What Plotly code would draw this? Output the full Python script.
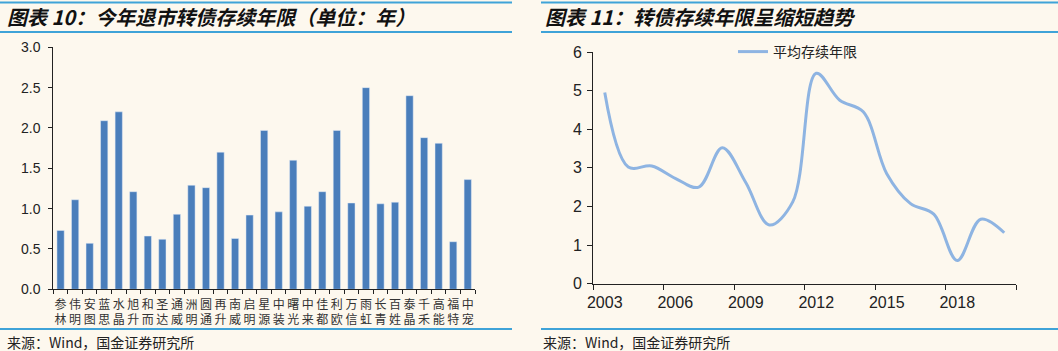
import plotly.graph_objects as go

# ---- Left chart data: 今年退市转债存续年限（单位：年）
bond_names = ["参林", "伟明", "安图", "蓝思", "水晶", "旭升", "和而", "圣达", "通威", "洲明",
              "圆通", "再升", "南威", "启明", "星源", "中装", "曙光", "中来", "佳都", "利欧",
              "万信", "雨虹", "长青", "百姓", "泰晶", "千禾", "高能", "福特", "中宠"]
bond_years = [0.73, 1.11, 0.57, 2.09, 2.20, 1.21, 0.66, 0.62, 0.93, 1.29,
              1.26, 1.70, 0.63, 0.92, 1.97, 0.96, 1.60, 1.03, 1.21, 1.97,
              1.07, 2.50, 1.06, 1.08, 2.40, 1.88, 1.81, 0.59, 1.36]
left_yticks = [0.0, 0.5, 1.0, 1.5, 2.0, 2.5, 3.0]

# ---- Right chart data: 转债存续年限呈缩短趋势
years = [2003, 2004, 2005, 2006, 2007, 2008, 2009, 2010, 2011,
         2012, 2013, 2014, 2015, 2016, 2017, 2018, 2019, 2020]
avg_life = [4.95, 3.02, 3.05, 2.73, 2.50, 3.52, 2.62, 1.52, 2.12,
            5.45, 4.75, 4.45, 2.85, 2.08, 1.80, 0.60, 1.67, 1.32]
right_xticks = [2003, 2006, 2009, 2012, 2015, 2018]
right_minor = [2002.5, 2005.5, 2008.5, 2011.5, 2014.5, 2017.5, 2020.5]

W, H = 1058, 351
BG = "#FDF8EE"
AX = "#222222"
RULE = "#3FA3D8"
BAR = "#4A7EBB"
LINE = "#8EB4E2"
CJK = "Noto Sans CJK SC"
LAT = "Liberation Sans, Arial, " + CJK

def px(x):
    return x / W

def py(y):
    return 1 - y / H

fig = go.Figure()

fig.add_trace(go.Bar(
    x=bond_names, y=bond_years, marker_color=BAR, width=0.5,
    xaxis="x", yaxis="y", showlegend=False,
))

fig.add_trace(go.Scatter(
    x=years, y=avg_life, mode="lines", name="平均存续年限",
    line=dict(color=LINE, width=3, shape="spline", smoothing=1.0),
    xaxis="x2", yaxis="y2",
))

fig.update_layout(
    width=W, height=H,
    margin=dict(l=0, r=0, t=0, b=0),
    paper_bgcolor=BG, plot_bgcolor=BG,
    bargap=0.5,
    xaxis=dict(
        domain=[px(53.3), px(475)], anchor="y", automargin=False,
        type="category", range=[-0.5, len(bond_names) - 0.5],
        tickvals=bond_names, ticktext=["<br>".join(list(n)) for n in bond_names],
        tickangle=0, ticklabelstandoff=4,
        tickson="boundaries", ticks="outside", ticklen=4, tickcolor=AX,
        showline=True, linecolor=AX, linewidth=1, showgrid=False,
        tickfont=dict(family=CJK, size=12, color="#333"),
    ),
    yaxis=dict(
        domain=[py(289.3), py(47.3)], anchor="x", automargin=False,
        range=[0, 3], tickvals=left_yticks, tickformat=".1f",
        ticks="outside", ticklen=4, tickcolor=AX, ticklabelstandoff=5,
        showline=True, linecolor=AX, linewidth=1, showgrid=False, zeroline=False,
        tickfont=dict(family=LAT, size=14, color="#222"),
    ),
    xaxis2=dict(
        domain=[px(593), px(1016)], anchor="y2", automargin=False,
        range=[2002.5, 2020.5], tickvals=right_xticks, ticks="", ticklabelstandoff=4,
        minor=dict(tickvals=right_minor, ticks="outside", ticklen=5, tickcolor=AX, showgrid=False),
        showline=True, linecolor=AX, linewidth=1, showgrid=False, zeroline=False,
        tickfont=dict(family=LAT, size=16, color="#222"),
    ),
    yaxis2=dict(
        domain=[py(283.7), py(52)], anchor="x2", automargin=False,
        range=[0, 6], dtick=1,
        ticks="outside", ticklen=5, tickcolor=AX, ticklabelstandoff=2,
        showline=True, linecolor=AX, linewidth=1, showgrid=False, zeroline=False,
        tickfont=dict(family=LAT, size=16, color="#222"),
    ),
    legend=dict(
        x=px(733), y=py(36), xanchor="left", yanchor="top",
        bgcolor="rgba(0,0,0,0)", font=dict(family=CJK, size=14, color="#222"),
        itemwidth=30,
    ),
)

# Header / footer rules
shapes = []
for x0, x1 in [(0, 512), (541, 1058)]:
    for y in [2.5, 32, 329]:
        shapes.append(dict(type="line", xref="paper", yref="paper",
                           x0=px(x0), x1=px(x1), y0=py(y), y1=py(y),
                           line=dict(color=RULE, width=2)))
fig.update_layout(shapes=shapes)

title_font = dict(family=CJK, size=20, color="#111", weight="bold", style="italic")
src_font = dict(family=CJK, size=14, color="#222")
fig.add_annotation(text="图表 10：今年退市转债存续年限（单位：年）", x=px(5), y=py(17),
                   xref="paper", yref="paper", xanchor="left", yanchor="middle",
                   showarrow=False, font=title_font)
fig.add_annotation(text="图表 11：转债存续年限呈缩短趋势", x=px(543), y=py(17),
                   xref="paper", yref="paper", xanchor="left", yanchor="middle",
                   showarrow=False, font=title_font)
for x in [5, 541]:
    fig.add_annotation(text="来源：Wind，国金证券研究所", x=px(x), y=py(342),
                       xref="paper", yref="paper", xanchor="left", yanchor="middle",
                       showarrow=False, font=src_font)

fig.write_html("out.html")
